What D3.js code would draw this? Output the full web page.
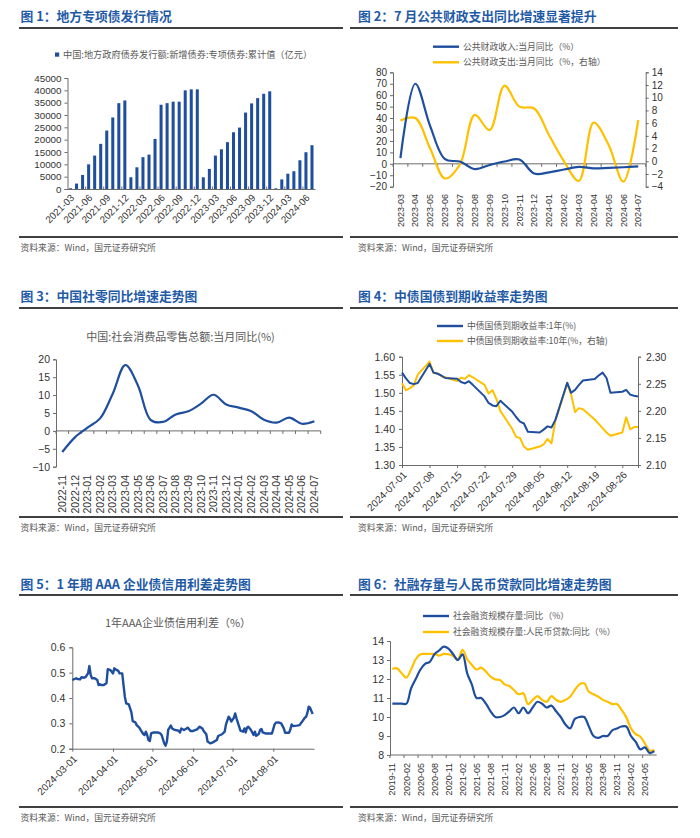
<!DOCTYPE html>
<html><head><meta charset="utf-8">
<script src="https://cdn.jsdelivr.net/npm/d3@7"></script>
<style>
body{margin:0;background:#fff}
svg{display:block}
text{font-family:"Liberation Sans",Arial,sans-serif}
.cjk{font-family:"Noto Sans CJK SC",sans-serif}
</style></head><body>
<svg id="c" width="700" height="838"></svg>
<script>
// ---------------- DATA ----------------
// Panel 1
const p1Months=["2021-03","2021-04","2021-05","2021-06","2021-07","2021-08","2021-09","2021-10","2021-11","2021-12",
"2022-01","2022-02","2022-03","2022-04","2022-05","2022-06","2022-07","2022-08","2022-09","2022-10","2022-11","2022-12",
"2023-01","2023-02","2023-03","2023-04","2023-05","2023-06","2023-07","2023-08","2023-09","2023-10","2023-11","2023-12",
"2024-01","2024-02","2024-03","2024-04","2024-05","2024-06","2024-07"];
const p1Values=[300,2200,5700,10000,13550,18300,23700,29000,34800,35900,
4750,8800,12900,13950,20300,34150,34800,35400,35400,40000,40400,40400,
4750,8130,13550,16100,19000,23000,24900,31000,34700,36850,38600,39600,
270,3900,6200,7200,11650,14900,17750];
const p1YTicks=[0,5000,10000,15000,20000,25000,30000,35000,40000,45000];
const p1XLabels=["2021-03","2021-06","2021-09","2021-12","2022-03","2022-06","2022-09","2022-12","2023-03","2023-06","2023-09","2023-12","2024-03","2024-06"];

// Panel 2
const p2Months=["2023-03","2023-04","2023-05","2023-06","2023-07","2023-08","2023-09","2023-10","2023-11","2023-12","2024-01","2024-02","2024-03","2024-04","2024-05","2024-06","2024-07"];
const p2Revenue=[5,70,33,4,2,-4.6,-1,2,3.8,-8.5,-7.5,-5,-2.7,-3.9,-3.5,-3.0,-2.3];
const p2Expend=[6.4,6.8,2.0,-2.7,-0.5,7.3,4.9,11.9,8.6,8.3,4.1,0,-3.1,6.1,2.6,-3.2,6.5];
const p2LeftTicks=[-20,-10,0,10,20,30,40,50,60,70,80];
const p2RightTicks=[-4,-2,0,2,4,6,8,10,12,14];

// Panel 3
const p3Months=["2022-11","2022-12","2023-01","2023-02","2023-03","2023-04","2023-05","2023-06","2023-07","2023-08","2023-09","2023-10","2023-11","2023-12","2024-01","2024-02","2024-03","2024-04","2024-05","2024-06","2024-07"];
const p3Retail=[-5.9,-1.8,0.9,3.5,10.4,18.4,12.7,3.1,2.5,4.6,5.5,7.6,10.1,7.4,6.5,5.5,3.1,2.3,3.7,2.0,2.7];
const p3Ticks=[-10,-5,0,5,10,15,20];

// Panel 4
const p4Dates=["2024-07-01","2024-07-02","2024-07-03","2024-07-04","2024-07-05",
"2024-07-08","2024-07-09","2024-07-10","2024-07-11","2024-07-12",
"2024-07-15","2024-07-16","2024-07-17","2024-07-18","2024-07-19",
"2024-07-22","2024-07-23","2024-07-24","2024-07-25","2024-07-26",
"2024-07-29","2024-07-30","2024-07-31","2024-08-01","2024-08-02",
"2024-08-05","2024-08-06","2024-08-07","2024-08-08","2024-08-09",
"2024-08-12","2024-08-13","2024-08-14","2024-08-15","2024-08-16",
"2024-08-19","2024-08-20","2024-08-21","2024-08-22","2024-08-23",
"2024-08-26","2024-08-27","2024-08-28","2024-08-29","2024-08-30"];
const p4Yield1Y=[1.556,1.540,1.527,1.524,1.527,
1.580,1.556,1.553,1.548,1.541,
1.539,1.530,1.526,1.532,1.522,
1.490,1.472,1.465,1.463,1.478,
1.448,1.433,1.420,1.415,1.392,
1.390,1.398,1.407,1.404,1.425,
1.528,1.500,1.508,1.522,1.534,
1.538,1.548,1.556,1.541,1.500,
1.503,1.508,1.495,1.492,1.490];
const p4Yield10Y=[2.251,2.238,2.242,2.247,2.267,
2.291,2.270,2.270,2.264,2.262,
2.255,2.261,2.259,2.266,2.262,
2.248,2.232,2.238,2.222,2.200,
2.167,2.152,2.150,2.134,2.128,
2.134,2.138,2.148,2.140,2.182,
2.250,2.230,2.198,2.205,2.203,
2.184,2.176,2.168,2.160,2.154,
2.160,2.188,2.166,2.170,2.170];
const p4LeftTicks=[1.30,1.35,1.40,1.45,1.50,1.55,1.60];
const p4RightTicks=[2.10,2.15,2.20,2.25,2.30];
const p4XLabels=["2024-07-01","2024-07-08","2024-07-15","2024-07-22","2024-07-29","2024-08-05","2024-08-12","2024-08-19","2024-08-26"];

// Panel 5
const p5Spread=[["2024-03-01",0.471],["2024-03-04",0.478],["2024-03-05",0.475],["2024-03-07",0.474],["2024-03-08",0.482],
["2024-03-10",0.480],["2024-03-11",0.482],["2024-03-13",0.497],["2024-03-14",0.526],["2024-03-15",0.491],
["2024-03-16",0.478],["2024-03-18",0.478],["2024-03-20",0.471],["2024-03-21",0.451],["2024-03-22",0.454],
["2024-03-23",0.451],["2024-03-25",0.451],["2024-03-27",0.458],["2024-03-28",0.514],["2024-03-30",0.510],
["2024-04-01",0.497],["2024-04-02",0.517],["2024-04-03",0.513],["2024-04-05",0.507],["2024-04-06",0.497],
["2024-04-08",0.497],["2024-04-09",0.451],["2024-04-10",0.405],["2024-04-11",0.379],["2024-04-13",0.375],
["2024-04-14",0.359],["2024-04-15",0.343],["2024-04-16",0.309],["2024-04-18",0.304],["2024-04-19",0.293],
["2024-04-21",0.283],["2024-04-22",0.274],["2024-04-24",0.258],["2024-04-25",0.254],["2024-04-26",0.267],
["2024-04-27",0.254],["2024-04-28",0.234],["2024-04-29",0.230],["2024-04-30",0.260],["2024-05-02",0.264],
["2024-05-05",0.264],["2024-05-07",0.260],["2024-05-08",0.254],["2024-05-10",0.221],["2024-05-11",0.212],
["2024-05-12",0.228],["2024-05-13",0.274],["2024-05-15",0.291],["2024-05-16",0.280],["2024-05-18",0.274],
["2024-05-21",0.271],["2024-05-22",0.264],["2024-05-23",0.280],["2024-05-25",0.274],["2024-05-27",0.280],
["2024-05-28",0.283],["2024-05-30",0.270],["2024-06-01",0.270],["2024-06-04",0.276],["2024-06-06",0.287],
["2024-06-08",0.280],["2024-06-09",0.270],["2024-06-11",0.257],["2024-06-12",0.228],["2024-06-14",0.221],
["2024-06-16",0.225],["2024-06-19",0.234],["2024-06-20",0.250],["2024-06-23",0.257],["2024-06-25",0.267],
["2024-06-26",0.296],["2024-06-28",0.326],["2024-06-29",0.320],["2024-06-30",0.307],["2024-07-02",0.322],
["2024-07-03",0.339],["2024-07-04",0.320],["2024-07-06",0.287],["2024-07-07",0.271],["2024-07-09",0.267],
["2024-07-10",0.280],["2024-07-11",0.264],["2024-07-12",0.283],["2024-07-13",0.287],["2024-07-15",0.274],
["2024-07-16",0.264],["2024-07-17",0.254],["2024-07-18",0.267],["2024-07-19",0.251],["2024-07-21",0.258],
["2024-07-22",0.274],["2024-07-23",0.278],["2024-07-24",0.264],["2024-07-26",0.260],["2024-07-30",0.260],
["2024-07-31",0.260],["2024-08-02",0.296],["2024-08-03",0.303],["2024-08-05",0.304],["2024-08-07",0.300],
["2024-08-09",0.280],["2024-08-10",0.263],["2024-08-13",0.263],["2024-08-14",0.276],["2024-08-15",0.296],
["2024-08-16",0.289],["2024-08-19",0.291],["2024-08-21",0.293],["2024-08-23",0.307],["2024-08-25",0.322],
["2024-08-26",0.326],["2024-08-27",0.342],["2024-08-28",0.366],["2024-08-29",0.362],["2024-08-30",0.349],
["2024-08-31",0.337]];
const p5Ticks=[0.2,0.3,0.4,0.5,0.6];
const p5XLabels=["2024-03-01","2024-04-01","2024-05-01","2024-06-01","2024-07-01","2024-08-01"];

// Panel 6
const p6Months=["2019-11","2019-12","2020-01","2020-02","2020-03","2020-04","2020-05","2020-06","2020-07","2020-08","2020-09","2020-10","2020-11","2020-12",
"2021-01","2021-02","2021-03","2021-04","2021-05","2021-06","2021-07","2021-08","2021-09","2021-10","2021-11","2021-12",
"2022-01","2022-02","2022-03","2022-04","2022-05","2022-06","2022-07","2022-08","2022-09","2022-10","2022-11","2022-12",
"2023-01","2023-02","2023-03","2023-04","2023-05","2023-06","2023-07","2023-08","2023-09","2023-10","2023-11","2023-12",
"2024-01","2024-02","2024-03","2024-04","2024-05","2024-06","2024-07"];
const p6Afre=[10.7,10.7,10.7,10.7,11.5,12.0,12.5,12.8,12.9,13.3,13.5,13.7,13.6,13.3,
13.0,13.3,12.3,11.7,11.0,11.0,10.7,10.3,10.0,10.0,10.1,10.3,
10.5,10.2,10.5,10.2,10.5,10.8,10.7,10.5,10.6,10.3,10.0,9.6,
9.4,9.9,10.0,10.0,9.5,9.0,8.9,9.0,9.0,9.3,9.4,9.5,
9.5,9.0,8.7,8.3,8.4,8.1,8.2];
const p6Loan=[12.53,12.56,12.30,12.07,12.50,13.04,13.30,13.32,13.32,13.32,13.23,13.32,13.30,13.21,
13.04,13.53,13.04,12.74,12.50,12.60,12.39,12.12,11.98,11.95,11.72,11.63,
11.42,11.20,11.25,10.68,10.90,11.10,10.90,10.80,11.10,10.90,10.80,10.90,
11.07,11.42,11.72,11.77,11.33,11.20,11.07,10.90,10.80,10.68,10.68,10.37,
9.98,9.40,9.10,8.96,8.60,8.23,8.26];
const p6Ticks=[8,9,10,11,12,13,14];
const p6XLabels=["2019-11","2020-02","2020-05","2020-08","2020-11","2021-02","2021-05","2021-08","2021-11","2022-02","2022-05","2022-08","2022-11","2023-02","2023-05","2023-08","2023-11","2024-02","2024-05"];

// ---------------- DRAW ----------------
const BLUE="#1f4e9e", YEL="#ffc000", TITLE="#1f5aa6", AX="#6b6b6b", TXT="#333333", GREY="#595959";
const svg=d3.select("#c");
const parse=d3.timeParse("%Y-%m-%d");

function header(x0,x1,lineTop,lineBot,titleY,title,titleX){
  svg.append("text").attr("class","cjk").attr("x",titleX).attr("y",titleY).attr("dy","0.35em")
    .attr("font-size",12.8).attr("font-weight","bold").attr("fill",TITLE).text(title);
  svg.append("line").attr("x1",x0).attr("x2",x1).attr("y1",lineTop).attr("y2",lineTop).attr("stroke","#000").attr("stroke-width",1.6);
  svg.append("line").attr("x1",x0).attr("x2",x1).attr("y1",lineBot).attr("y2",lineBot).attr("stroke","#000").attr("stroke-width",1.6);
  svg.append("text").attr("class","cjk").attr("x",titleX).attr("y",lineBot+11).attr("dy","0.35em")
    .attr("font-size",8.8).attr("fill",GREY).text("资料来源：Wind，国元证券研究所");
}
function styleAxis(g,fs){
  g.select(".domain").attr("stroke",AX).attr("stroke-width",1);
  g.selectAll(".tick line").attr("stroke",AX);
  g.selectAll(".tick text").attr("fill",TXT).attr("font-size",fs).attr("font-family","'Liberation Sans',Arial,sans-serif");
}
function rotLabels(labels,xf,y,fs,angle,dx){
  svg.append("g").selectAll("text").data(labels).join("text")
    .attr("transform",d=>`translate(${xf(d)+dx},${y}) rotate(${angle})`)
    .attr("text-anchor","end").attr("dy","0.35em").attr("font-size",fs).attr("fill",TXT).text(d=>d);
}
function legendLine(x,y,color,label){
  svg.append("line").attr("x1",x).attr("x2",x+26).attr("y1",y).attr("y2",y).attr("stroke",color).attr("stroke-width",2.4);
  svg.append("text").attr("class","cjk").attr("x",x+30).attr("y",y).attr("dy","0.35em").attr("font-size",8.8).attr("fill",GREY).text(label);
}

header(19,343,28,237,17,"图 1：地方专项债发行情况",20.5);
header(350,678,28,237,17,"图 2：7 月公共财政支出同比增速显著提升",358);
header(19,343,308,517,297,"图 3：中国社零同比增速走势图",20.5);
header(350,678,308,517,297,"图 4：中债国债到期收益率走势图",358);
header(19,343,595,807,585,"图 5：1 年期 AAA 企业债信用利差走势图",20.5);
header(350,678,595,807,585,"图 6：社融存量与人民币贷款同比增速走势图",358);

// ---- Panel 1 ----
{
  const x=d3.scaleBand().domain(p1Months).range([67.5,315]).paddingInner(0.5).paddingOuter(0.25);
  const y=d3.scaleLinear().domain([0,45000]).range([189,78]);
  svg.append("rect").attr("x",55).attr("y",52.5).attr("width",4.2).attr("height",4.2).attr("fill",BLUE);
  svg.append("text").attr("class","cjk").attr("x",63).attr("y",54.6).attr("dy","0.35em").attr("font-size",9.2).attr("fill",GREY)
    .text("中国:地方政府债券发行额:新增债券:专项债券:累计值（亿元）");
  svg.append("g").selectAll("rect").data(p1Months).join("rect")
    .attr("x",d=>x(d)).attr("width",x.bandwidth())
    .attr("y",(d,i)=>y(p1Values[i])).attr("height",(d,i)=>y(0)-y(p1Values[i])).attr("fill",BLUE);
  const ga=svg.append("g").attr("transform","translate(67.5,0)").call(d3.axisLeft(y).tickValues(p1YTicks).tickSize(3).tickPadding(3).tickFormat(d3.format("d")));
  styleAxis(ga,9.8);
  const gx=svg.append("g").attr("transform","translate(0,189)").call(d3.axisBottom(x).tickValues([]).tickSize(0).tickSizeOuter(0));
  styleAxis(gx,9.8);
  svg.append("g").selectAll("line").data(p1Months.filter((d,i)=>i>0&&i%3===0)).join("line")
    .attr("x1",d=>x(d)-x.step()*0.25).attr("x2",d=>x(d)-x.step()*0.25).attr("y1",189).attr("y2",186.5).attr("stroke",AX);
  rotLabels(p1XLabels,d=>x(d)+x.bandwidth()/2,196,9.8,-45,2);
}

// ---- Panel 2 ----
{
  const x=d3.scaleBand().domain(p2Months).range([393,645.7]);
  const yL=d3.scaleLinear().domain([-20,80]).range([186.7,72.3]);
  const yR=d3.scaleLinear().domain([-4,14]).range([186.7,72.3]);
  legendLine(433,46.7,BLUE,"公共财政收入:当月同比（%）");
  legendLine(433,62.3,YEL,"公共财政支出:当月同比（%，右轴）");
  const gl=svg.append("g").attr("transform","translate(393,0)").call(d3.axisLeft(yL).tickValues(p2LeftTicks).tickSize(3).tickPadding(3));
  styleAxis(gl,10);
  const gr=svg.append("g").attr("transform","translate(645.7,0)").call(d3.axisRight(yR).tickValues(p2RightTicks).tickSize(3).tickPadding(3));
  styleAxis(gr,10);
  svg.append("line").attr("x1",393).attr("x2",645.7).attr("y1",yL(0)).attr("y2",yL(0)).attr("stroke",AX);
  svg.append("g").selectAll("line").data(p2Months).join("line")
    .attr("x1",d=>x(d)).attr("x2",d=>x(d)).attr("y1",yL(0)).attr("y2",yL(0)+3).attr("stroke",AX);
  svg.append("line").attr("x1",645.7).attr("x2",645.7).attr("y1",yL(0)).attr("y2",yL(0)+3).attr("stroke",AX);
  const cx=d=>x(d)+x.bandwidth()/2;
  svg.append("path").datum(p2Months).attr("fill","none").attr("stroke",YEL).attr("stroke-width",2.2)
    .attr("d",d3.line().x(d=>cx(d)).y((d,i)=>yR(p2Expend[i])).curve(d3.curveCatmullRom.alpha(0.5)));
  svg.append("path").datum(p2Months).attr("fill","none").attr("stroke",BLUE).attr("stroke-width",2.2)
    .attr("d",d3.line().x(d=>cx(d)).y((d,i)=>yL(p2Revenue[i])).curve(d3.curveCatmullRom.alpha(0.5)));
  rotLabels(p2Months,cx,194,9,-90,0);
}

// ---- Panel 3 ----
{
  const x=d3.scaleBand().domain(p3Months).range([56,320.7]);
  const y=d3.scaleLinear().domain([-10,20]).range([466.7,359.3]);
  svg.append("text").attr("class","cjk").attr("x",180.5).attr("y",336.7).attr("dy","0.35em").attr("text-anchor","middle")
    .attr("font-size",11).attr("fill",GREY).text("中国:社会消费品零售总额:当月同比(%)");
  const ga=svg.append("g").attr("transform","translate(56,0)").call(d3.axisLeft(y).tickValues(p3Ticks).tickSize(3).tickPadding(3));
  styleAxis(ga,10.5);
  svg.append("line").attr("x1",56).attr("x2",320.7).attr("y1",y(0)).attr("y2",y(0)).attr("stroke",AX);
  svg.append("g").selectAll("line").data(p3Months).join("line")
    .attr("x1",d=>x(d)).attr("x2",d=>x(d)).attr("y1",y(0)).attr("y2",y(0)+3).attr("stroke",AX);
  svg.append("line").attr("x1",320.7).attr("x2",320.7).attr("y1",y(0)).attr("y2",y(0)+3).attr("stroke",AX);
  const cx=d=>x(d)+x.bandwidth()/2;
  svg.append("path").datum(p3Months).attr("fill","none").attr("stroke",BLUE).attr("stroke-width",2.2)
    .attr("d",d3.line().x(d=>cx(d)).y((d,i)=>y(p3Retail[i])).curve(d3.curveCatmullRom.alpha(0.5)));
  rotLabels(p3Months,cx,475,10.5,-90,0);
}

// ---- Panel 4 ----
{
  const x=d3.scaleTime().domain([parse("2024-07-01"),parse("2024-08-30")]).range([402,638]);
  const yL=d3.scaleLinear().domain([1.30,1.60]).range([465,356.7]);
  const yR=d3.scaleLinear().domain([2.10,2.30]).range([465,356.7]);
  legendLine(437,326,BLUE,"中债国债到期收益率:1年(%)");
  legendLine(437,341,YEL,"中债国债到期收益率:10年(%，右轴)");
  const gl=svg.append("g").attr("transform","translate(402,0)").call(d3.axisLeft(yL).tickValues(p4LeftTicks).tickSize(3).tickPadding(4).tickFormat(d3.format(".2f")));
  styleAxis(gl,10.5);
  const gr=svg.append("g").attr("transform","translate(638,0)").call(d3.axisRight(yR).tickValues(p4RightTicks).tickSize(3).tickPadding(5).tickFormat(d3.format(".2f")));
  styleAxis(gr,10.5);
  const gx=svg.append("g").attr("transform","translate(0,465)").call(d3.axisBottom(x).tickValues(p4XLabels.map(parse)).tickSize(3).tickFormat(""));
  styleAxis(gx,10);
  const dates=p4Dates.map(parse);
  svg.append("path").datum(dates).attr("fill","none").attr("stroke",YEL).attr("stroke-width",2).attr("stroke-linejoin","round")
    .attr("d",d3.line().x(d=>x(d)).y((d,i)=>yR(p4Yield10Y[i])));
  svg.append("path").datum(dates).attr("fill","none").attr("stroke",BLUE).attr("stroke-width",2).attr("stroke-linejoin","round")
    .attr("d",d3.line().x(d=>x(d)).y((d,i)=>yL(p4Yield1Y[i])));
  rotLabels(p4XLabels,d=>x(parse(d)),473,10,-45,3);
}

// ---- Panel 5 ----
{
  const x=d3.scaleTime().domain([parse("2024-03-01"),parse("2024-09-01")]).range([72.3,314]);
  const y=d3.scaleLinear().domain([0.2,0.6]).range([748.7,647.3]);
  svg.append("text").attr("class","cjk").attr("x",178).attr("y",623.3).attr("dy","0.35em").attr("text-anchor","middle")
    .attr("font-size",11).attr("fill",GREY).text("1年AAA企业债信用利差（%）");
  const ga=svg.append("g").attr("transform","translate(72.3,0)").call(d3.axisLeft(y).tickValues(p5Ticks).tickSize(3).tickPadding(4).tickFormat(d3.format(".1f")));
  styleAxis(ga,10.5);
  const gx=svg.append("g").attr("transform","translate(0,748.7)").call(d3.axisBottom(x).tickValues(p5XLabels.map(parse)).tickSize(3).tickSizeOuter(0).tickFormat(""));
  styleAxis(gx,10);
  svg.append("path").datum(p5Spread).attr("fill","none").attr("stroke",BLUE).attr("stroke-width",2.4).attr("stroke-linejoin","round")
    .attr("d",d3.line().x(d=>x(parse(d[0]))).y(d=>y(d[1])));
  rotLabels(p5XLabels,d=>x(parse(d)),757,10,-45,3);
}

// ---- Panel 6 ----
{
  const x=d3.scaleBand().domain(p6Months).range([390,656.7]);
  const y=d3.scaleLinear().domain([8,14]).range([755,641]);
  legendLine(423,616,BLUE,"社会融资规模存量:同比（%）");
  legendLine(423,632,YEL,"社会融资规模存量:人民币贷款:同比（%）");
  const ga=svg.append("g").attr("transform","translate(390,0)").call(d3.axisLeft(y).tickValues(p6Ticks).tickSize(3).tickPadding(3).tickFormat(d3.format("d")));
  styleAxis(ga,10.5);
  svg.append("line").attr("x1",390).attr("x2",656.7).attr("y1",755).attr("y2",755).attr("stroke",AX);
  svg.append("g").selectAll("line").data(p6Months.filter((d,i)=>i%3===0)).join("line")
    .attr("x1",d=>x(d)).attr("x2",d=>x(d)).attr("y1",755).attr("y2",758).attr("stroke",AX);
  const cx=d=>x(d)+x.bandwidth()/2;
  svg.append("path").datum(p6Months).attr("fill","none").attr("stroke",YEL).attr("stroke-width",2.2)
    .attr("d",d3.line().x(d=>cx(d)).y((d,i)=>y(p6Loan[i])).curve(d3.curveCatmullRom.alpha(0.5)));
  svg.append("path").datum(p6Months).attr("fill","none").attr("stroke",BLUE).attr("stroke-width",2.2)
    .attr("d",d3.line().x(d=>cx(d)).y((d,i)=>y(p6Afre[i])).curve(d3.curveCatmullRom.alpha(0.5)));
  rotLabels(p6XLabels,cx,763,9,-90,0);
}
</script></body></html>
